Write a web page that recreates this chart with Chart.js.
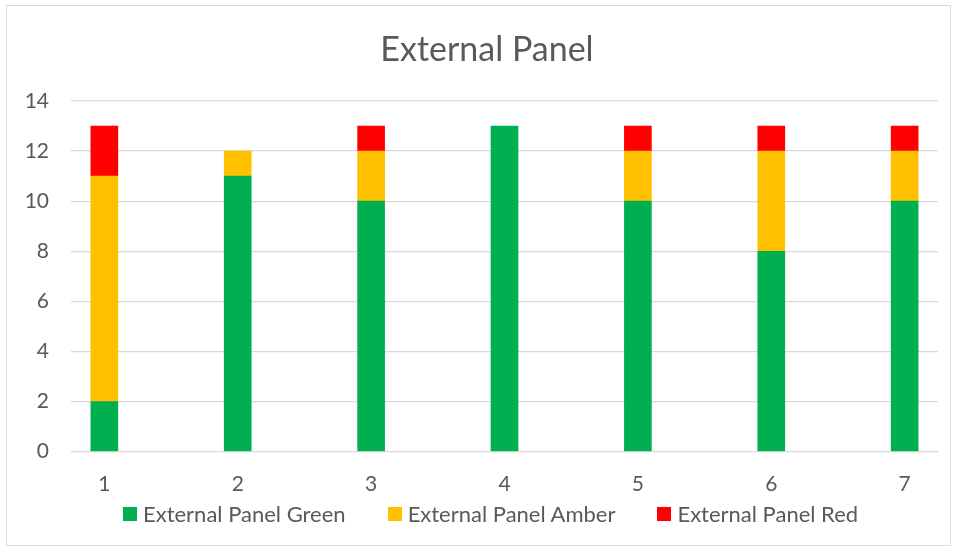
<!DOCTYPE html>
<html>
<head>
<meta charset="utf-8">
<script src="https://cdn.jsdelivr.net/npm/chart.js@4"></script>
<style>
  html, body { margin: 0; padding: 0; background: #fff; }
  #wrap { position: relative; width: 957px; height: 550px; font-family: Lato, "Open Sans", sans-serif; color: #595959; }
  #frame { position: absolute; left: 6px; top: 5px; width: 943px; height: 539px; border: 1px solid #d9d9d9; pointer-events: none; }
  #title { position: absolute; left: 287px; width: 400px; top: 28px; line-height: 40px; font-size: 34px; text-align: center; }
  #legend { position: absolute; left: 123px; top: 500px; height: 27px; display: flex; align-items: center; font-size: 22px; white-space: nowrap; }
  #legend .item { display: flex; align-items: center; margin-right: 42px; }
  #legend .item:last-child { margin-right: 0; }
  #legend .box { width: 14px; height: 14px; margin-right: 6px; }
</style>
</head>
<body>
<div id="wrap">
  <canvas id="chart" width="957" height="550"></canvas>
  <div id="title">External Panel</div>
  <div id="legend"></div>
  <div id="frame"></div>
</div>
<script>
const panels = [1, 2, 3, 4, 5, 6, 7];
const greenCounts = [2, 11, 10, 13, 10, 8, 10];
const amberCounts = [9, 1, 2, 0, 2, 4, 2];
const redCounts = [2, 0, 1, 0, 1, 1, 1];
const yTicks = [0, 2, 4, 6, 8, 10, 12, 14];

const textColor = '#595959';
const gridColor = '#d9d9d9';
const fontFamily = 'Lato, "Open Sans", sans-serif';

// empty segments are left out so no sliver is drawn for them
const toPoints = (vals) => panels.map((p, i) => ({ x: p, y: vals[i] === 0 ? null : vals[i] }));

const ctx = document.getElementById('chart').getContext('2d');

window.myChart = new Chart(ctx, {
    type: 'bar',
    data: {
        datasets: [
            { label: 'External Panel Green', data: toPoints(greenCounts), backgroundColor: '#00b050', barThickness: 27 },
            { label: 'External Panel Amber', data: toPoints(amberCounts), backgroundColor: '#ffc000', barThickness: 27 },
            { label: 'External Panel Red', data: toPoints(redCounts), backgroundColor: '#ff0000', barThickness: 27 }
        ]
    },
    options: {
        responsive: false,
        animation: false,
        layout: { padding: { left: 0, right: 19, top: 101, bottom: 40.4 } },
        plugins: {
            legend: { display: false },
            tooltip: { enabled: false }
        },
        scales: {
            x: {
                type: 'linear',
                stacked: true,
                offset: false,
                min: 0.75,
                max: 7.25,
                afterBuildTicks: (scale) => { scale.ticks = panels.map(v => ({ value: v })); },
                grid: { display: false },
                border: { display: true, color: gridColor },
                ticks: {
                    color: textColor,
                    font: { family: fontFamily, size: 21 },
                    padding: 12.4,
                    maxRotation: 0
                }
            },
            y: {
                stacked: true,
                min: 0,
                max: 14,
                afterBuildTicks: (scale) => { scale.ticks = yTicks.map(v => ({ value: v })); },
                afterFit: (scale) => { scale.width = 71; },
                grid: { color: gridColor, lineWidth: 1.3, drawTicks: false },
                border: { display: false },
                ticks: {
                    color: textColor,
                    font: { family: fontFamily, size: 21 },
                    padding: 22
                }
            }
        }
    }
});

// html legend built from the datasets
const legendEl = document.getElementById('legend');
window.myChart.data.datasets.forEach(ds => {
    const item = document.createElement('div');
    item.className = 'item';
    const box = document.createElement('span');
    box.className = 'box';
    box.style.background = ds.backgroundColor;
    const label = document.createElement('span');
    label.innerText = ds.label;
    item.appendChild(box);
    item.appendChild(label);
    legendEl.appendChild(item);
});
</script>
</body>
</html>
